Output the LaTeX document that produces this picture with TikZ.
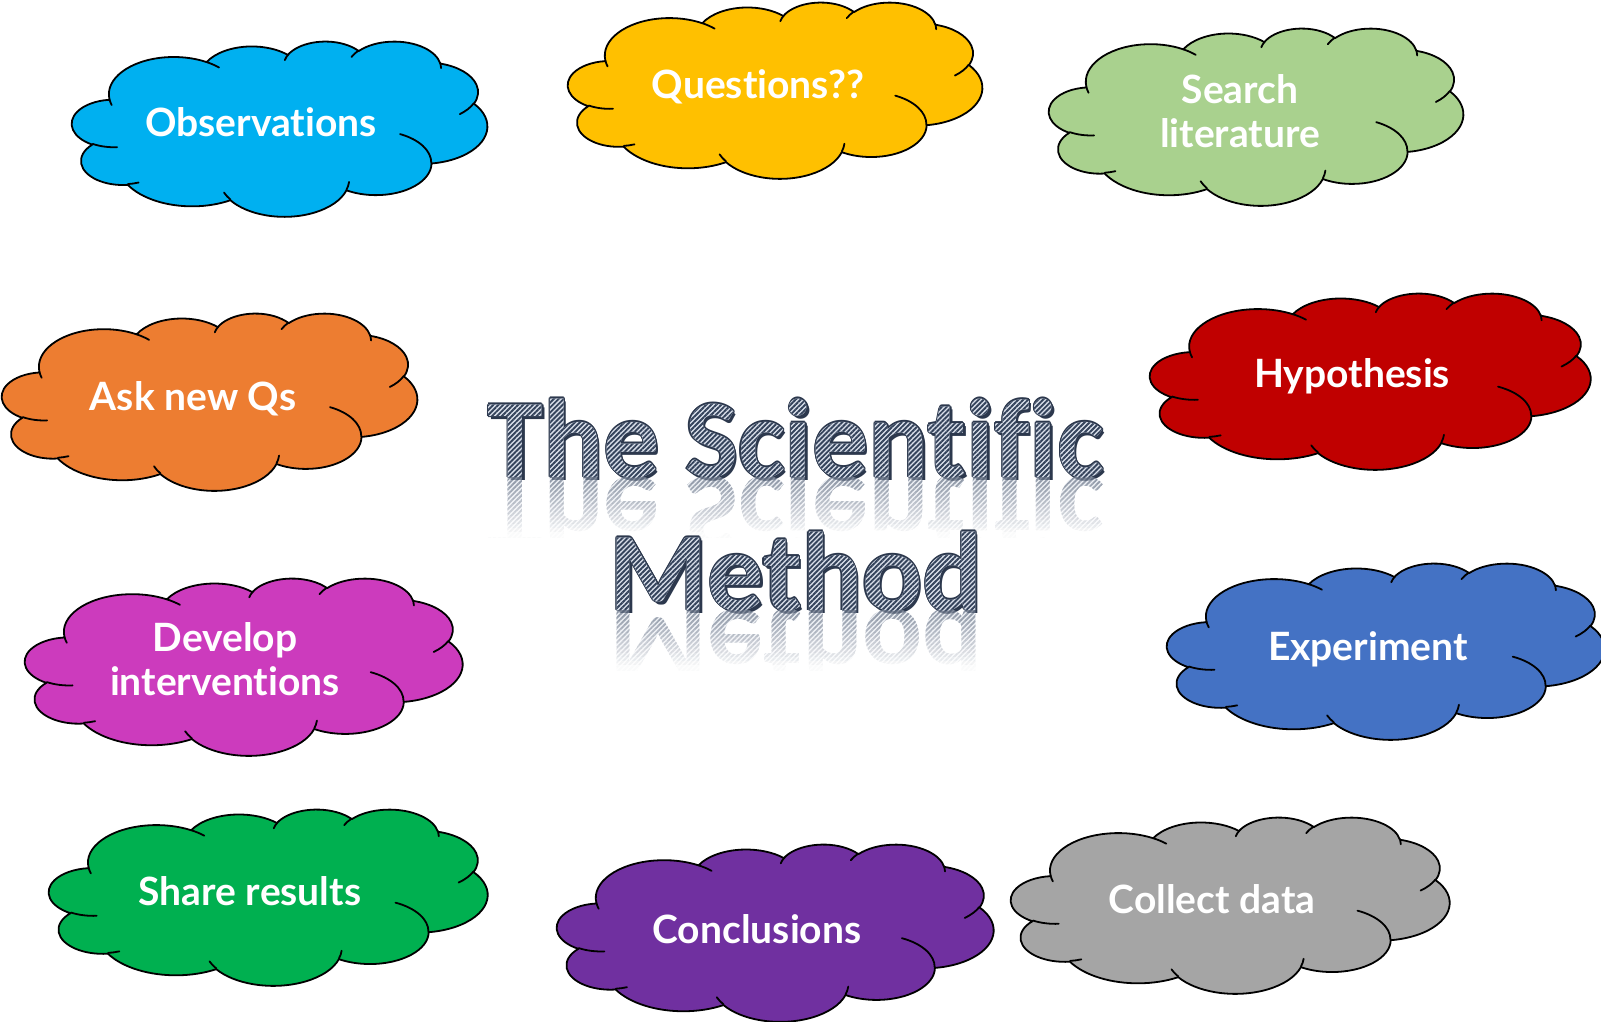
\documentclass[tikz,border=0pt]{standalone}
\usepackage{fontspec}
\usetikzlibrary{patterns.meta,fadings}
\newfontfamily\SciTitleFont{Carlito}[Ligatures=CommonOff]
\newfontfamily\SciCloudFont{Lato}[Ligatures=CommonOff]
\definecolor{cObs}{HTML}{00B0F0}
\definecolor{cQue}{HTML}{FFC000}
\definecolor{cSea}{HTML}{A9D18E}
\definecolor{cAsk}{HTML}{ED7D31}
\definecolor{cHyp}{HTML}{C00000}
\definecolor{cDev}{HTML}{CC3BBD}
\definecolor{cExp}{HTML}{4472C4}
\definecolor{cSha}{HTML}{00B050}
\definecolor{cCon}{HTML}{7030A0}
\definecolor{cCol}{HTML}{A5A5A5}
\definecolor{ttlNavy}{HTML}{2C384D}
\definecolor{ttlStripe}{HTML}{34435B}
\definecolor{ttlLight}{HTML}{D9DFEA}
\newcommand\SciTitleStyle{\SciTitleFont\bfseries\fontsize{56}{60}\selectfont}

\newcommand\SciReflect[2]{%
  \foreach \i in {0,...,14}{%
    \pgfmathsetmacro\SciLum{52*(1-(\i+0.5)/15)}%
    \begin{pgfscope}%
      \pgfpathrectangle{\pgfpoint{-200pt}{#2-(\i+1)*2pt}}{\pgfpoint{400pt}{2.05pt}}%
      \pgfusepath{clip}%
      \pgftext[base,at={\pgfpoint{0pt}{#2}}]{\color{white!\SciLum!black}\SciTitleStyle\scalebox{1}[-1]{#1}}%
    \end{pgfscope}%
  }%
}
\newcommand\SciFadeFrame{%
  \pgfpathrectangle{\pgfpoint{-200pt}{-100pt}}{\pgfpoint{400pt}{200pt}}%
  \pgfusepath{use as bounding box}%
  \pgfsetfillcolor{black}%
  \pgfpathrectangle{\pgfpoint{-200pt}{-100pt}}{\pgfpoint{400pt}{200pt}}%
  \pgfusepath{fill}%
}

% mask of the patterned letters and their reflections
\pgfdeclarefading{titlefade}{%
  \begin{pgfpicture}%
    \SciFadeFrame
    \SciReflect{The Scientific}{33pt}%
    \pgftext[base,at={\pgfpoint{0pt}{33pt}}]{\color{white}\SciTitleStyle The Scientific}%
    \SciReflect{Method}{-33.5pt}%
    \pgftext[base,at={\pgfpoint{0pt}{-33.5pt}}]{\color{white}\SciTitleStyle Method}%
  \end{pgfpicture}%
}
% mask of the dark outline and shadow
\pgfdeclarefading{titleolfade}{%
  \begin{pgfpicture}%
    \SciFadeFrame
    \foreach \dx/\dy in {-0.6/0,0.6/0,0/0.6,0/-0.6,0.45/0.45,-0.45/-0.45,0.45/-0.45,-0.45/0.45,0.75/-0.9,1.25/-1.5}{%
      \pgftext[base,at={\pgfpoint{\dx pt}{33pt+(\dy pt)}}]{\color{white}\SciTitleStyle The Scientific}%
      \pgftext[base,at={\pgfpoint{\dx pt}{-33.5pt+(\dy pt)}}]{\color{white}\SciTitleStyle Method}%
    }%
  \end{pgfpicture}%
}

% parametric angle of an OOXML (visual) angle on an ellipse wR x hR
\newcommand\cldang[4]{%
  \pgfmathsetmacro\cldtmp{atan2((#2)*sin(#4),(#3)*cos(#4))-(#4)}%
  \pgfmathsetmacro\cldres{(#4)+\cldtmp-360*round(\cldtmp/360)}%
  \global\let#1\cldres
}
\newcommand\carc[4]{%
  \pgfextra{\cldang\cldA{#1}{#2}{#3}\cldang\cldB{#1}{#2}{#3+#4}}%
  arc[x radius=#1, y radius=#2, start angle=\cldA, end angle=\cldB]%
}
% cloud: left, top, width, height (px), colour
\newcommand\SciCloud[5]{%
  \begin{scope}[shift={(#1,#2)}, x=1cm, y=1cm, xscale=#3*0.00040678, yscale=-#4*0.00040678]
    \filldraw[cloudline, fill=#5] (3.9,14.37)
      \carc{6.753}{9.19}{-190.4875}{123.7805}
      \carc{5.333}{7.267}{-144.1024}{89.9452}
      \carc{4.365}{5.945}{-145.8079}{99.7230}
      \carc{4.857}{6.595}{-130.9861}{117.2417}
      \carc{5.333}{7.273}{-78.7089}{109.0269}
      \carc{6.775}{9.22}{-46.2673}{130.269}
      \carc{5.785}{7.867}{0.6250}{114.0333}
      \carc{6.752}{9.215}{22.4516}{115.1726}
      \carc{7.72}{10.543}{66.2426}{75.7110}
      \carc{4.36}{5.918}{-274.9421}{146.7356}
      \carc{4.345}{5.945}{-246.8285}{152.5189}
      -- cycle;
    \draw[cloudline, line cap=round] (4.693,26.177) \carc{4.345}{5.945}{86.742}{26.4295}
      (6.928,34.899) \carc{4.36}{5.918}{73.6105}{11.4475}
      (16.478,39.09) \carc{6.752}{9.215}{137.6242}{14.0811}
      (28.827,34.751) \carc{6.752}{9.215}{6.4533}{15.9984}
      (34.129,22.954) \carc{5.785}{7.867}{-70.2924}{70.9174}
      (41.798,15.354) \carc{5.333}{7.273}{30.3180}{27.7515}
      (38.324,5.426) \carc{4.857}{6.595}{-13.7443}{14.8589}
      (29.078,3.952) \carc{4.857}{6.595}{-149.1815}{18.1954}
      (22.141,4.72) \carc{4.365}{5.945}{-163.4943}{17.6864}
      (14.0,5.192) \carc{6.753}{9.19}{-66.7070}{12.3194}
      (4.127,15.789) \carc{6.753}{9.19}{157.6544}{11.8582};
  \end{scope}%
}

\begin{document}
\begin{tikzpicture}[x=0.5pt,y=-0.5pt,
  cloudline/.style={draw=black, line width=0.9pt, line join=round},
  cloudtext/.style={text=white, font=\SciCloudFont\bfseries\fontsize{19.5}{23}\selectfont, anchor=base, inner sep=0pt},
  titleol/.style={text=ttlNavy, font=\SciTitleStyle, anchor=base, inner sep=0pt}]
% picture origin = centre of the title
\begin{scope}[shift={(-796,-543)}]
\fill[white] (0,0) rectangle (1601,1022);
\useasboundingbox (0,0) rectangle (1601,1022);

% clouds
\SciCloud{72}{41}{410}{173}{cObs}
\SciCloud{568}{2}{409}{174}{cQue}
\SciCloud{1049}{28}{409}{175}{cSea}
\SciCloud{2}{313}{410}{175}{cAsk}
\SciCloud{1150}{293}{435}{174}{cHyp}
\SciCloud{25}{578}{432}{175}{cDev}
\SciCloud{1167}{563}{432}{174}{cExp}
\SciCloud{49}{809}{433}{174}{cSha}
\SciCloud{557}{844}{431}{175}{cCon}
\SciCloud{1011}{817}{433}{174}{cCol}

\node[cloudtext] (obs) at (261,137) {Observations};
\node[cloudtext] (que) at (758,99) {Questions??};
\node[cloudtext] (sea1) at (1240,104) {Search};
\node[cloudtext] (sea2) at (1240,148) {literature};
\node[cloudtext] (ask) at (193,411) {Ask new Qs};
\node[cloudtext] (hyp) at (1352,388) {Hypothesis};
\node[cloudtext] (dev1) at (225,652) {Develop};
\node[cloudtext] (dev2) at (225,696) {interventions};
\node[cloudtext] (exp) at (1368,661) {Experiment};
\node[cloudtext] (sha) at (250,905) {Share results};
\node[cloudtext] (con) at (757,943) {Conclusions};
\node[cloudtext] (col) at (1212,913) {Collect data};
\end{scope}

% title text (dark base glyphs)
\node[titleol] (ttlA) at (0,-66) {The Scientific};
\node[titleol] (ttlB) at (0,67) {Method};
% outline and shadow, patterned fill and reflections through text fadings
\fill[ttlNavy, path fading=titleolfade, fit fading=false] (-380,-180) rectangle (380,180);
\fill[ttlLight, path fading=titlefade, fit fading=false] (-380,-180) rectangle (380,180);
\fill[pattern={Lines[angle=45,distance=1.75pt,line width=0.95pt]}, pattern color=ttlStripe, path fading=titlefade, fit fading=false] (-380,-180) rectangle (380,180);
\end{tikzpicture}
\end{document}
